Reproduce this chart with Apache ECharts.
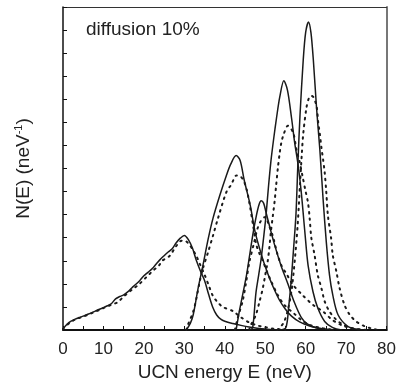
<!DOCTYPE html>
<html><head><meta charset="utf-8">
<script src="https://cdn.jsdelivr.net/npm/echarts@6/dist/echarts.min.js"></script>
<style>html,body{margin:0;padding:0;background:#fff}#c{width:399px;height:387px}</style>
</head><body><div id="c"></div>
<script>
// x ticks
const xTicks = [0, 10, 20, 30, 40, 50, 60, 70, 80];
// solid curves (specular)
const solid1 = [[0,0.05],[1,0.25],[2,0.38],[3,0.47],[4,0.54],[5,0.6],[6,0.67],[7,0.74],[8,0.82],[9,0.9],[10,0.97],[11,1.05],[12,1.15],[13,1.35],[14,1.45],[15,1.52],[16,1.65],[17,1.82],[18,1.98],[19,2.15],[20,2.35],[21,2.5],[22,2.65],[23,2.85],[24,3.05],[25,3.22],[26,3.38],[27,3.52],[28,3.78],[29,3.98],[30,4.1],[31,3.92],[32,3.55],[33,3.0],[34,2.55],[35,2.15],[36,1.55],[37,1.0],[38,0.65],[39,0.47],[40,0.38],[42,0.28],[44,0.2],[46,0.13],[48,0.08],[50,0.04],[53,0]];
const solid2 = [[30.5,0],[31.5,0.3],[32.2,0.66],[33.4,1.8],[34.6,2.8],[35.9,3.95],[37.1,4.85],[38.8,5.85],[40.4,6.7],[41.5,7.2],[42.8,7.56],[43.8,7.35],[44.8,6.5],[46.3,5.4],[47.5,4.25],[49,3.3],[50.5,2.5],[52,1.85],[53.5,1.3],[55,0.9],[56.5,0.6],[58.5,0.35],[61,0.17],[64,0.06],[67,0]];
const solid3 = [[42.8,0],[43.7,0.9],[44.5,1.6],[45.4,2.4],[46.2,3.3],[47,4.2],[47.8,4.95],[48.5,5.45],[49,5.6],[49.6,5.5],[50.2,5.1],[51,4.55],[52.3,3.7],[53.9,2.8],[55.6,2.0],[57.2,1.2],[58.9,0.55],[60.5,0.25],[62.5,0.1],[65,0.03],[67,0]];
const solid4 = [[46.3,0],[46.9,0.1],[47.7,1.6],[48.4,2.4],[49,3.1],[49.6,4.0],[50.2,4.97],[50.8,6.2],[51.4,7.3],[52.1,8.3],[52.8,9.2],[53.6,10.1],[54.6,10.8],[55.5,10.4],[56.5,9.2],[57.3,8.1],[58.1,7.2],[58.9,6.0],[59.8,4.25],[60.6,2.8],[61.8,1.67],[63,0.95],[64.7,0.37],[66.7,0.1],[69,0]];
const solid5 = [[53.6,0],[55.1,0.1],[55.8,1.0],[56.4,2.1],[57,3.5],[57.6,5.0],[58.1,7.3],[58.6,9.3],[59.4,11.7],[60.0,12.9],[60.7,13.35],[61.3,12.9],[61.9,11.7],[62.7,9.6],[63.5,7.84],[64.3,5.7],[65.1,3.82],[65.9,2.38],[66.7,1.52],[68,0.66],[70.4,0.16],[73,0.02],[75,0]];
// dotted curves (diffusion)
const dotted1 = [[0,0.05],[1,0.22],[2,0.35],[3,0.45],[4,0.52],[5,0.58],[6,0.65],[7,0.72],[8,0.8],[9,0.87],[10,0.95],[11,1.02],[12,1.1],[13.5,1.2],[15,1.45],[17,1.74],[18.6,1.95],[20.5,2.27],[22,2.53],[23.8,2.81],[24.5,3.0],[26.3,3.2],[27.7,3.56],[29,3.85],[30,3.88],[31,3.75],[32,3.5],[33,3.2],[34,2.8],[35,2.4],[36,1.95],[37,1.5],[38,1.25],[39.5,1.0],[42,0.82],[44,0.55],[46,0.33],[48,0.2],[50,0.12],[52,0.06],[55,0]];
const dotted2 = [[30.5,0],[30.9,0.23],[32.2,0.8],[33,1.38],[33.8,2.1],[34.6,2.67],[35.9,3.39],[37.1,4.1],[38.3,4.83],[40.4,5.98],[41.6,6.3],[42.9,6.7],[43.7,6.68],[44.6,6.5],[45.4,6.1],[46.2,5.4],[47,4.54],[47.8,3.7],[48.6,3.3],[49.4,3.0],[50.5,2.5],[51.5,2.1],[53.1,1.52],[54.7,1.09],[57.2,0.7],[59,0.42],[61,0.22],[64,0.08],[67,0]];
const dotted3 = [[42.5,0],[43.2,0.52],[44.4,1.24],[45.3,2.1],[46.1,2.96],[47.3,3.82],[48.1,4.4],[49,4.75],[50,4.9],[51,4.5],[52,4.0],[53,3.3],[54,2.8],[55.2,2.45],[56.9,1.95],[59.3,1.5],[61.8,1.09],[64.3,0.8],[66.5,0.45],[69,0.2],[72,0.06],[75,0]];
const dotted4 = [[46,0],[46.5,0.23],[47.7,0.66],[48.6,1.24],[49.4,1.81],[50,2.38],[50.6,2.96],[51,3.53],[51.4,4.25],[51.9,4.97],[52.3,5.54],[52.7,6.26],[53.1,6.98],[53.6,7.7],[54,8.13],[54.5,8.45],[55.6,8.85],[56.9,8.56],[57.7,7.84],[58.5,7.3],[59.3,6.6],[60,6.0],[60.6,5.5],[61,4.83],[61.4,4.0],[62.2,3.25],[63,2.38],[63.9,1.81],[64.7,1.24],[65.9,0.8],[67.6,0.44],[69.6,0.2],[72,0.05],[74,0]];
const dotted5 = [[53,0],[54.5,0.3],[55.5,0.8],[56.5,1.7],[57.3,3.0],[58,4.5],[58.6,6.3],[59,7.5],[59.4,8.5],[60.2,9.64],[60.8,10.05],[61.4,10.15],[61.9,10.1],[62.7,9.7],[63.1,9.0],[63.5,8.5],[63.9,7.9],[64.3,7.4],[64.7,6.84],[65.1,5.98],[65.5,4.97],[66.3,3.97],[66.7,3.25],[67.6,2.53],[68.4,1.81],[69.6,1.09],[70.9,0.66],[72.5,0.37],[74.6,0.16],[76.7,0.05],[78,0]];

const solids = [solid1, solid2, solid3, solid4, solid5];
const dotteds = [dotted1, dotted2, dotted3, dotted4, dotted5];
const FONT = 'Liberation Sans, Arial, sans-serif';
const series = [];
solids.forEach(d => series.push({type:'line', data:d, showSymbol:false, smooth:0.3, lineStyle:{color:'#1a1a1a', width:1.5}}));
dotteds.forEach(d => series.push({type:'line', data:d, showSymbol:false, smooth:0.3, lineStyle:{color:'#1a1a1a', width:2, type:[1.5,5], cap:'round'}}));

const chart = echarts.init(document.getElementById('c'), null, {renderer:'canvas'});
chart.setOption({
  animation:false,
  title:{text:'diffusion 10%', left:81, top:15, textStyle:{fontFamily:FONT, fontSize:19, fontWeight:'normal', color:'#222'}},
  grid:{left:63, right:12, top:7, bottom:55},
  xAxis:[{
    type:'value', min:xTicks[0], max:xTicks[xTicks.length-1], interval:10,
    name:'UCN energy E (neV)', nameLocation:'middle', nameGap:33,
    nameTextStyle:{fontFamily:FONT, fontSize:19, color:'#222'},
    axisLine:{onZero:false, lineStyle:{color:'#111', width:2}},
    axisTick:{inside:true, length:4, lineStyle:{color:'#111', width:1}},
    minorTick:{show:true, splitNumber:2, length:4, lineStyle:{color:'#111', width:1}},
    axisLabel:{fontFamily:FONT, fontSize:17, color:'#222', margin:11},
    splitLine:{show:false}
  },{
    type:'value', position:'top', min:0, max:80,
    axisLine:{show:true, onZero:false, lineStyle:{color:'#333', width:1}},
    axisTick:{show:false}, axisLabel:{show:false}, splitLine:{show:false}
  }],
  yAxis:[{
    type:'value', min:0, max:14, interval:1,
    name:'{a|N(E) (neV}{s|-1}{a|)}', nameLocation:'middle', nameGap:28,
    nameTextStyle:{fontFamily:FONT, color:'#222', rich:{a:{fontFamily:FONT, fontSize:19, color:'#222', lineHeight:22}, s:{fontFamily:FONT, fontSize:11, color:'#222', verticalAlign:'top', lineHeight:22}}},
    axisLine:{show:true, onZero:false, lineStyle:{color:'#111', width:1.5}},
    axisTick:{inside:true, length:4, lineStyle:{color:'#111', width:1}},
    axisLabel:{show:false}, splitLine:{show:false}
  },{
    type:'value', position:'right', min:0, max:14,
    axisLine:{show:true, onZero:false, lineStyle:{color:'#777', width:2}},
    axisTick:{show:false}, axisLabel:{show:false}, splitLine:{show:false}
  }],
  series: series
});
</script></body></html>
